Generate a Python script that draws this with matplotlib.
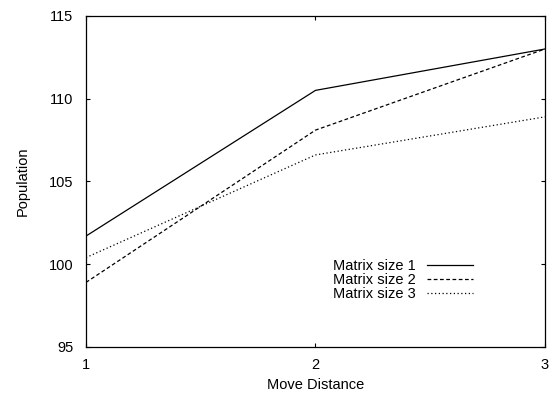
import matplotlib
matplotlib.use("Agg")
import matplotlib.pyplot as plt

plt.rcParams["font.family"] = ["Liberation Sans", "DejaVu Sans"]

move_distance = [1, 2, 3]
matrix_size_1 = [101.7, 110.5, 113.0]
matrix_size_2 = [98.9, 108.1, 113.0]
matrix_size_3 = [100.4, 106.6, 108.9]
labels = ["Matrix size 1", "Matrix size 2", "Matrix size 3"]

fig = plt.figure(figsize=(5.53, 3.97), dpi=100)
ax = fig.add_axes([0.1555, 0.126, 0.83, 0.834])

ax.plot(move_distance, matrix_size_1, color="black", lw=0.9, label=labels[0])
ax.plot(move_distance, matrix_size_2, color="black", lw=0.9, dashes=(3, 2), label=labels[1])
ax.plot(move_distance, matrix_size_3, color="black", lw=0.9, dashes=(1, 2), label=labels[2])

ax.set_xlim(1, 3)
ax.set_ylim(95, 115)
ax.set_xticks([1, 2, 3])
ax.set_yticks([95, 100, 105, 110, 115])
ax.tick_params(direction="in", length=3, width=0.8, top=True, right=True, labelsize=10.5)
ax.tick_params(axis="y", pad=9)
ax.tick_params(axis="x", pad=8)
for spine in ax.spines.values():
    spine.set_linewidth(0.9)
ax.set_xlabel("Move Distance", fontsize=10.5, labelpad=4)
ax.set_ylabel("Population", fontsize=10.5, labelpad=14)

ax.legend(loc="lower right", bbox_to_anchor=(0.843, 0.14), frameon=False, markerfirst=False,
          fontsize=10.5, handlelength=3.15, labelspacing=0.0, handletextpad=0.8,
          borderpad=0, borderaxespad=0)

fig.savefig("out.png", dpi=100)
